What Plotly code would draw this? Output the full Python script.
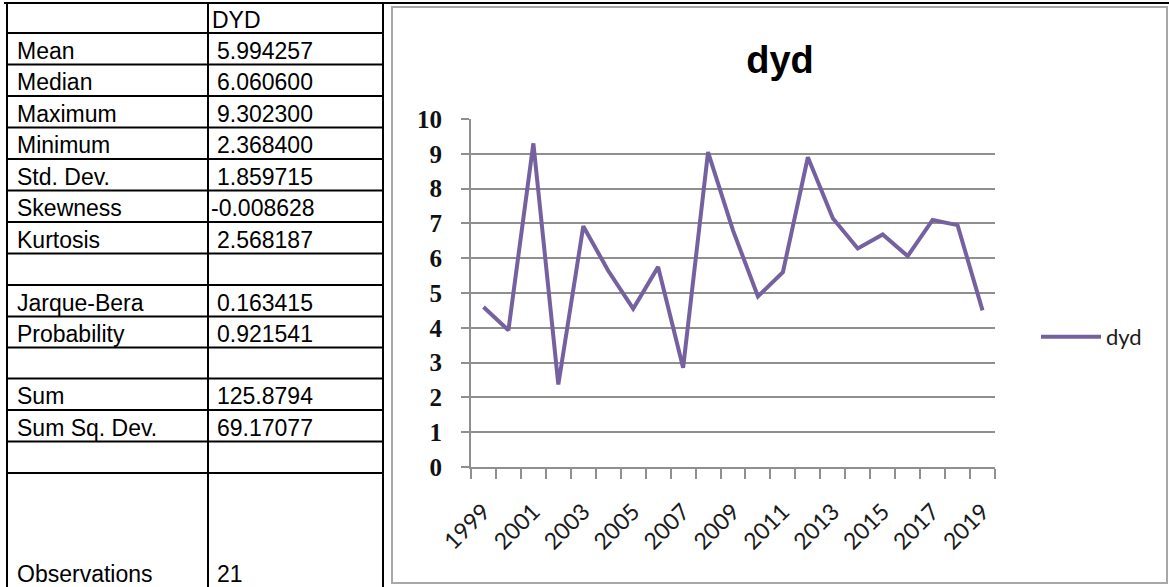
import plotly.graph_objects as go

# ---------------- data ----------------
years = list(range(1999, 2020))
dyd = [4.60, 3.93, 9.30, 2.37, 6.92, 5.64, 4.55, 5.75, 2.85, 9.05, 6.80,
       4.90, 5.60, 8.90, 7.15, 6.28, 6.68, 6.06, 7.10, 6.95, 4.50]
year_ticks = list(range(1999, 2020, 2))
y_ticks = list(range(0, 11))

series_name = "dyd"
chart_title = "dyd"
table_header = "DYD"
stat_labels = ["Mean", "Median", "Maximum", "Minimum", "Std. Dev.", "Skewness",
               "Kurtosis", "", "Jarque-Bera", "Probability", "", "Sum",
               "Sum Sq. Dev.", "", "Observations"]
stat_values = ["5.994257", "6.060600", "9.302300", "2.368400", "1.859715",
               "-0.008628", "2.568187", "", "0.163415", "0.921541", "",
               "125.8794", "69.17077", "", "21"]

# ---------------- layout helpers ----------------
W, H = 1169, 587
def px(x):
    return x / W
def py(y):
    return 1 - y / H

ROW_Y = [3, 33, 64.5, 96, 127.5, 159, 190.5, 222, 253.5, 285, 316.5,
         347.5, 378.5, 410, 441.5, 473, 587]
COL_X = [7, 208, 383]
GRAY = "#8f8f8f"
PURPLE = "#7561a0"

shapes = []
annotations = []

# table grid
shapes.append(dict(type="line", xref="paper", yref="paper",
                   x0=px(4), x1=1, y0=py(ROW_Y[0]), y1=py(ROW_Y[0]),
                   line=dict(color="black", width=2)))
for yv in ROW_Y[1:-1]:
    shapes.append(dict(type="line", xref="paper", yref="paper",
                       x0=px(COL_X[0]), x1=px(COL_X[-1]), y0=py(yv), y1=py(yv),
                       line=dict(color="black", width=2)))
for xv in COL_X:
    shapes.append(dict(type="line", xref="paper", yref="paper",
                       x0=px(xv), x1=px(xv), y0=py(ROW_Y[0]), y1=0,
                       line=dict(color="black", width=2)))

# chart frame
shapes.append(dict(type="rect", xref="paper", yref="paper",
                   x0=px(392), x1=px(1167), y0=py(7), y1=py(583),
                   line=dict(color="#a8a8a8", width=2), layer="below"))

TFONT = dict(family="Liberation Sans, Arial", size=23, color="black")

def row_center(i):
    top, bot = ROW_Y[i], ROW_Y[i + 1]
    if i == len(ROW_Y) - 2:
        return bot - 13
    return (top + bot) / 2 + 2

annotations.append(dict(text=table_header, xref="paper", yref="paper",
                        x=px(210), y=py(row_center(0)), xanchor="left",
                        yanchor="middle", showarrow=False, font=TFONT))
for i, (lab, val) in enumerate(zip(stat_labels, stat_values)):
    yc = py(row_center(i + 1))
    if lab:
        annotations.append(dict(text=lab, xref="paper", yref="paper",
                                x=px(15), y=yc, xanchor="left", yanchor="middle",
                                showarrow=False, font=TFONT))
    if val:
        xv = 209 if val.startswith("-") else 215
        annotations.append(dict(text=val, xref="paper", yref="paper",
                                x=px(xv), y=yc, xanchor="left", yanchor="middle",
                                showarrow=False, font=TFONT))

fig = go.Figure()
fig.add_trace(go.Scatter(x=years, y=dyd, mode="lines", name=series_name,
                         line=dict(color=PURPLE, width=4)))

fig.update_layout(
    width=W, height=H,
    margin=dict(l=0, r=0, t=0, b=0, autoexpand=False),
    paper_bgcolor="white", plot_bgcolor="white",
    showlegend=True,
    title=dict(text=chart_title, x=px(780), y=py(60), xref="paper", yref="paper",
               xanchor="center", yanchor="middle",
               font=dict(family="Liberation Sans, Arial", size=38, color="black",
                         weight="bold")),
    legend=dict(xref="paper", yref="paper", x=px(1036), y=py(337),
                xanchor="left", yanchor="middle", bgcolor="rgba(0,0,0,0)",
                itemwidth=60,
                font=dict(family="Lato", size=22, color="#1a1a1a")),
    xaxis=dict(
        type="linear", range=[1998.5, 2019.5], domain=[px(471), px(995)],
        tickvals=year_ticks, ticktext=[str(y) for y in year_ticks],
        tickangle=-45, ticks="", showgrid=False, zeroline=False,
        showline=True, linecolor=GRAY, linewidth=2,
        tickfont=dict(family="Lato", size=23, color="#1a1a1a"),
        ticklabelstandoff=20,
        minor=dict(ticks="outside", ticklen=10, tickcolor=GRAY, tickwidth=2,
                   tick0=1998.5, dtick=1, showgrid=False),
        automargin=False, fixedrange=True,
    ),
    yaxis=dict(
        range=[0, 10], domain=[py(467), py(119)],
        tickvals=y_ticks, ticks="outside", ticklen=8, tickcolor=GRAY, tickwidth=2,
        showgrid=True, gridcolor=GRAY, gridwidth=2, zeroline=False,
        showline=True, linecolor=GRAY, linewidth=2,
        tickfont=dict(family="Liberation Serif, Times New Roman", size=25,
                      color="#111111", weight="bold"),
        ticklabelstandoff=14,
        automargin=False, fixedrange=True,
    ),
    shapes=shapes,
    annotations=annotations,
)

fig.write_html("out.html")
